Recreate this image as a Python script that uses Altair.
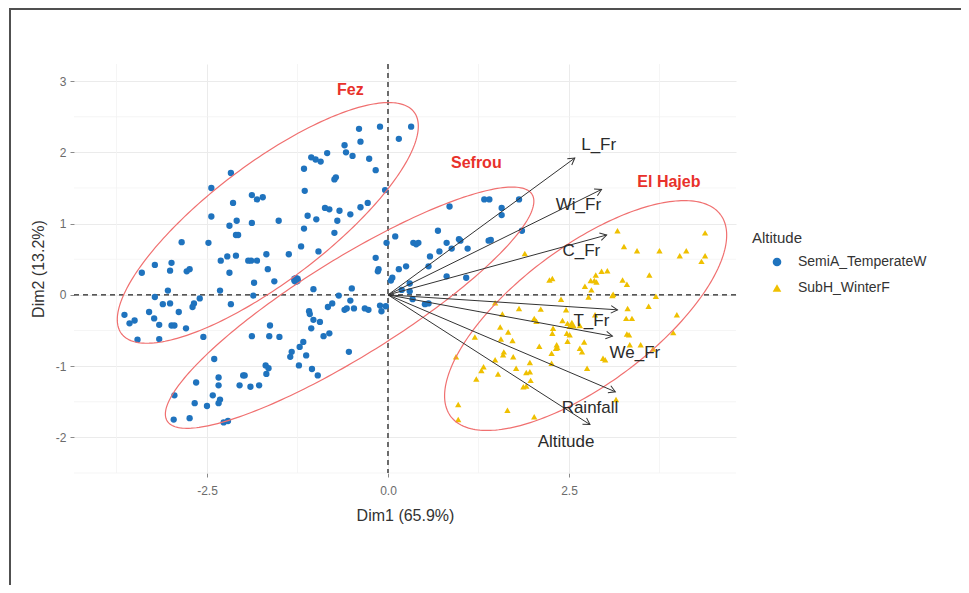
import math
import altair as alt
import numpy as np
import pandas as pd

# ---------------- data ----------------
group_names = ["SemiA_TemperateW", "SubH_WinterF"]
group_colors = ["#1f73be", "#efc000"]
group_shapes = ["circle", "triangle-up"]

semi_x = [-2.17, -2.44, -2.14, -2.44, -2.09, -2.19, -2.10, -2.07, -2.85, -2.48, -2.31, -2.22, -2.10, -1.93, -2.19,
          -2.99, -3.22, -3.01, -2.78, -2.74, -3.40, -3.04, -2.32, -3.22, -3.11, -3.01, -2.60, -2.68, -2.70, -2.17,
          -3.30, -2.89, -3.64, -3.50, -3.57, -3.23, -3.16, -2.99, -2.95, -2.79, -3.46, -3.16, -2.55,
          -2.40, -2.34, -2.65, -2.00, -1.98, -2.34, -2.05, -1.90, -2.95, -2.42, -2.32, -2.34, -2.67, -2.50, -2.96,
          -2.74, -2.27, -2.21,
          -0.40, -0.11, 0.32, 0.15, -0.38, -0.60, -0.58, -0.84, -0.49, -1.06, -1.00, -0.93, -0.26, -1.16, -0.17,
          -0.72, -0.74, -0.04, -1.15, -1.88, -1.81, -1.73, -0.87, -0.81, -0.67, -0.38, -0.28, -1.11, -0.99, -0.52,
          -0.70, -1.51, -1.88, -1.16, -0.74, -1.20, -0.96, -1.37, -1.68, -1.89, -1.81, -1.66, -1.57, -1.85, -1.03,
          -0.50, -1.86, -0.68, -0.77, -0.83, -0.52, -0.60, -0.57, -0.47, -0.32, -0.27, -0.11, -0.09, -0.03, -1.09,
          -1.08, -1.03, -0.94, -1.06, -1.63, -1.88, -1.64, -1.50, -0.81, -0.89, -1.17, -1.22, -1.33, -1.35, -1.13,
          -0.54, -1.69, -1.65, -1.68, -1.23, -1.05, -0.97, -1.78,
          -0.17, -0.13, -0.14, -0.02, 0.10, 0.35, 0.39, 0.42, 0.81, 0.98, 1.00, 1.39, 1.42, 0.71, 0.88, 1.10, 0.58,
          0.56, 0.15, 0.25, 0.06, 0.04, 0.81, 1.08, 0.30, 0.19, 0.30, 0.34, 0.51, 0.56, 1.33, 1.40, 1.81, 0.85,
          1.57, 1.57, 0.69, 1.85]
semi_y = [1.71, 1.50, 1.29, 1.10, 1.04, 0.97, 0.84, 0.84, 0.74, 0.73, 0.48, 0.54, 0.55, 0.48, 0.31,
          0.45, 0.42, 0.34, 0.33, 0.36, 0.31, 0.06, 0.06, -0.03, -0.13, -0.12, -0.05, -0.12, -0.17, -0.13,
          -0.24, -0.24, -0.28, -0.36, -0.40, -0.33, -0.42, -0.43, -0.43, -0.47, -0.63, -0.62, -0.59,
          -0.90, -1.16, -1.23, -1.13, -1.13, -1.27, -1.27, -1.29, -1.41, -1.41, -1.47, -1.52, -1.52, -1.56, -1.75,
          -1.73, -1.79, -1.77,
          2.33, 2.36, 2.36, 2.19, 2.15, 2.10, 2.00, 1.99, 1.95, 1.93, 1.90, 1.87, 1.91, 1.77, 1.75,
          1.65, 1.62, 1.47, 1.46, 1.40, 1.34, 1.37, 1.22, 1.20, 1.18, 1.23, 1.29, 1.11, 1.06, 1.13,
          1.04, 1.04, 1.01, 0.93, 0.87, 0.68, 0.61, 0.57, 0.57, 0.48, 0.48, 0.36, 0.19, 0.17, 0.08,
          0.09, -0.01, -0.01, -0.12, -0.17, -0.08, -0.21, -0.19, -0.19, -0.19, -0.21, -0.15, -0.23, -0.16, -0.23,
          -0.27, -0.35, -0.38, -0.47, -0.43, -0.58, -0.58, -0.59, -0.54, -0.58, -0.66, -0.73, -0.80, -0.87, -0.85,
          -0.80, -0.99, -1.03, -1.11, -0.99, -1.04, -1.13, -1.27,
          0.52, 0.36, 0.33, 0.73, 0.82, 0.73, 0.71, 0.73, 0.73, 0.78, 0.76, 0.76, 0.77, 0.61, 0.65, 0.65, 0.54,
          0.40, 0.36, 0.40, 0.24, 0.20, 0.26, 0.24, 0.16, 0.07, 0.05, -0.06, -0.13, -0.12, 1.34, 1.34, 1.34, 1.24,
          1.22, 1.12, 0.90, 0.90]

subh_x = [3.17, 4.38, 3.26, 3.44, 3.75, 4.03, 4.12, 4.38, 4.33, 1.89, 2.23, 2.27, 2.87, 2.95, 3.03, 2.80, 2.85,
          2.88, 3.24, 3.30, 3.61, 2.72, 2.81, 3.11, 3.10, 3.70, 2.77, 2.39, 1.48, 1.81, 2.11, 2.46, 2.86, 3.31,
          3.60, 3.99, 1.58, 2.02, 2.05, 3.29, 3.37, 2.41, 2.48, 2.51, 2.65, 1.55, 1.66, 2.28, 2.27, 2.47, 2.51,
          3.30, 3.33, 3.94, 1.20, 1.56, 1.72, 2.09, 2.33, 2.34, 2.32, 2.48, 2.71, 2.65, 2.68, 3.34, 3.49, 3.66,
          1.60, 1.59, 1.73, 2.26, 1.48, 1.96, 2.97, 3.00, 0.94, 1.32, 1.29, 1.77, 2.26, 2.75, 1.52, 1.22, 1.91,
          1.96, 1.97, 1.87, 1.91, 0.97, 1.65, 2.02, 0.97, 3.15]
subh_y = [0.90, 0.87, 0.68, 0.62, 0.62, 0.55, 0.62, 0.55, 0.47, 0.58, 0.21, 0.23, 0.28, 0.33, 0.34, 0.20, 0.20,
          0.18, 0.21, 0.15, 0.28, 0.12, 0.07, 0.01, -0.01, -0.02, -0.03, -0.06, -0.11, -0.19, -0.20, -0.21, -0.28,
          -0.19, -0.16, -0.28, -0.27, -0.33, -0.37, -0.33, -0.33, -0.36, -0.40, -0.44, -0.43, -0.45, -0.52, -0.47,
          -0.54, -0.54, -0.56, -0.55, -0.56, -0.53, -0.59, -0.62, -0.64, -0.72, -0.70, -0.74, -0.75, -0.65, -0.66,
          -0.75, -0.80, -0.70, -0.70, -0.76, -0.80, -0.84, -0.87, -0.82, -0.91, -0.95, -0.89, -0.91, -0.87, -1.01,
          -1.06, -1.03, -0.96, -1.03, -1.11, -1.18, -1.09, -1.08, -1.20, -1.29, -1.28, -1.54, -1.62, -1.71, -1.75,
          -1.47]

mean_x = [-1.27, 2.54]
mean_y = [0.21, -0.41]

var_names = ["L_Fr", "Wi_Fr", "C_Fr", "T_Fr", "We_Fr", "Rainfall", "Altitude"]
var_x = [2.58, 2.95, 3.02, 3.17, 3.10, 3.14, 2.79]
var_y = [1.92, 1.48, 0.84, -0.21, -0.58, -1.36, -1.82]
var_label_x = [2.91, 2.63, 2.67, 2.81, 3.41, 2.79, 2.46]
var_label_y = [2.10, 1.26, 0.61, -0.37, -0.82, -1.59, -2.06]

region_names = ["Fez", "Sefrou", "El Hajeb"]
region_cx = [-1.66, -0.53, 2.73]
region_cy = [1.01, -0.18, -0.29]
region_a = [2.55, 2.98, 2.34]
region_b = [0.82, 0.68, 0.96]
region_angle = [37.7, 32.3, 37.4]
region_label_x = [-0.52, 1.22, 3.88]
region_label_y = [2.88, 1.85, 1.58]

x_ticks = [-2.5, 0.0, 2.5]
y_ticks = [-2, -1, 0, 1, 2, 3]
x_minor = [-3.75, -1.25, 1.25, 3.75]
y_minor = [-2.5, -1.5, -0.5, 0.5, 1.5, 2.5]

x_domain = [-4.337, 4.807]
y_domain = [-2.50, 3.24]

# ---------------- layout ----------------
W, H = 662, 409
PAD_L, PAD_T = 66, 56
PAD_R = 953 - PAD_L - W
PAD_B = 577 - PAD_T - H
FONT = "Liberation Sans"

xs = alt.Scale(domain=x_domain, nice=False, zero=False)
ys = alt.Scale(domain=y_domain, nice=False, zero=False)

x_axis = alt.Axis(values=x_ticks, grid=True, gridColor="#ebebeb", gridWidth=1, domain=False,
                  tickColor="#8a8a8a", tickSize=4, labelColor="#6b6b6b", labelFontSize=12,
                  labelFont=FONT, labelPadding=8,
                  labelExpr="replace(format(datum.value, '.1f'), '\u2212', '-')",
                  titleFont=FONT, titleFontSize=16, titleFontWeight="normal", titleColor="#333333",
                  titlePadding=11)
y_axis = alt.Axis(values=y_ticks, grid=True, gridColor="#ebebeb", gridWidth=1, domain=False,
                  tickColor="#8a8a8a", tickSize=4, labelColor="#6b6b6b", labelFontSize=12,
                  labelFont=FONT, labelPadding=4,
                  labelExpr="replace(format(datum.value, 'd'), '\u2212', '-')",
                  titleFont=FONT, titleFontSize=16, titleFontWeight="normal", titleColor="#333333",
                  titlePadding=9)
X_TITLE = "Dim1 (65.9%)"
Y_TITLE = "Dim2 (13.2%)"


def X(field):
    return alt.X(field, scale=xs, axis=x_axis, title=X_TITLE)


def Y(field):
    return alt.Y(field, scale=ys, axis=y_axis, title=Y_TITLE)


# ---------------- tables ----------------
pts = pd.DataFrame({
    "x": semi_x + subh_x,
    "y": semi_y + subh_y,
    "group": [group_names[0]] * len(semi_x) + [group_names[1]] * len(subh_x),
})
means = pd.DataFrame({"x": mean_x, "y": mean_y, "group": group_names})

px_x = W / (x_domain[1] - x_domain[0])
px_y = H / (y_domain[1] - y_domain[0])
vars_df = pd.DataFrame({
    "name": var_names, "x0": 0.0, "y0": 0.0, "xe": var_x, "ye": var_y,
    "lx": var_label_x, "ly": var_label_y,
})
vars_df["ang"] = [math.degrees(math.atan2(-yy * px_y, xx * px_x)) % 360 for xx, yy in zip(var_x, var_y)]

ell_rows = []
tt = np.linspace(0, 2 * np.pi, 241)
for nm, cx, cy, a, b, ang in zip(region_names, region_cx, region_cy, region_a, region_b, region_angle):
    ph = math.radians(ang)
    for i, t in enumerate(tt):
        ell_rows.append({
            "name": nm, "t": i,
            "x": cx + a * math.cos(t) * math.cos(ph) - b * math.sin(t) * math.sin(ph),
            "y": cy + a * math.cos(t) * math.sin(ph) + b * math.sin(t) * math.cos(ph),
        })
ell = pd.DataFrame(ell_rows)
regions = pd.DataFrame({"name": region_names, "x": region_label_x, "y": region_label_y})

zero_df = pd.DataFrame({"v": [0.0]})
xminor_df = pd.DataFrame({"v": x_minor})
yminor_df = pd.DataFrame({"v": y_minor})
frame_df = pd.DataFrame({"k": [0]})

# ---------------- layers ----------------
minor_x = alt.Chart(xminor_df).mark_rule(color="#f3f3f3", strokeWidth=0.8).encode(x=X("v:Q"))
minor_y = alt.Chart(yminor_df).mark_rule(color="#f3f3f3", strokeWidth=0.8).encode(y=Y("v:Q"))

zero_v = alt.Chart(zero_df).mark_rule(color="#222222", strokeWidth=1.3, strokeDash=[5, 4]).encode(x=X("v:Q"))
zero_h = alt.Chart(zero_df).mark_rule(color="#222222", strokeWidth=1.3, strokeDash=[5, 4]).encode(y=Y("v:Q"))

legend = alt.Legend(
    title="Altitude", orient="none", legendX=678, legendY=167,
    titleFont=FONT, titleFontSize=15, titleFontWeight="normal", titleColor="#333333", titlePadding=9,
    labelFont=FONT, labelFontSize=14, labelColor="#333333",
    symbolSize=75, symbolOffset=18, labelOffset=14, rowPadding=12, padding=0, symbolStrokeWidth=0,
)

points = alt.Chart(pts).mark_point(filled=True, size=40, opacity=1).encode(
    x=X("x:Q"), y=Y("y:Q"),
    color=alt.Color("group:N", scale=alt.Scale(domain=group_names, range=group_colors), legend=legend),
    shape=alt.Shape("group:N", scale=alt.Scale(domain=group_names, range=group_shapes), legend=legend),
)

mean_pts = alt.Chart(means).mark_point(filled=True, size=100, opacity=1).encode(
    x=X("x:Q"), y=Y("y:Q"),
    color=alt.Color("group:N", scale=alt.Scale(domain=group_names, range=group_colors), legend=legend),
    shape=alt.Shape("group:N", scale=alt.Scale(domain=group_names, range=group_shapes), legend=legend),
)

ellipses = alt.Chart(ell).mark_line(color="#f07070", strokeWidth=1.2).encode(
    x=X("x:Q"), y=Y("y:Q"), detail="name:N", order="t:Q",
)

arrows = alt.Chart(vars_df).mark_rule(color="#333333", strokeWidth=1).encode(
    x=X("x0:Q"), y=Y("y0:Q"), x2="xe:Q", y2="ye:Q",
)
heads = alt.Chart(vars_df).mark_point(
    shape="M-1,-0.58L0,0L-1,0.58", filled=False, size=169, color="#333333", strokeWidth=1, opacity=1
).encode(
    x=X("xe:Q"), y=Y("ye:Q"), angle=alt.Angle("ang:Q", scale=None),
)
var_labels = alt.Chart(vars_df).mark_text(font=FONT, fontSize=17, color="#2b2b2b", align="center",
                                          baseline="middle").encode(
    x=X("lx:Q"), y=Y("ly:Q"), text="name:N")

region_labels = alt.Chart(regions).mark_text(font=FONT, fontSize=16, fontWeight="bold", color="#e8312b",
                                             align="center", baseline="middle").encode(
    x=X("x:Q"), y=Y("y:Q"), text="name:N")

frame_left = alt.Chart(frame_df).mark_rule(color="#505050", strokeWidth=2).encode(
    x=alt.value(-PAD_L + 2), y=alt.value(-PAD_T + 1), y2=alt.value(H + PAD_B))
frame_top = alt.Chart(frame_df).mark_rule(color="#505050", strokeWidth=2).encode(
    x=alt.value(-PAD_L + 1), x2=alt.value(W + PAD_R), y=alt.value(-PAD_T + 1))

chart = alt.layer(
    minor_x, minor_y, zero_v, zero_h, points, mean_pts, ellipses, arrows, heads, var_labels, region_labels,
    frame_left, frame_top,
).properties(
    width=W, height=H,
    autosize=alt.AutoSizeParams(type="none"),
    padding={"left": PAD_L, "top": PAD_T, "right": PAD_R, "bottom": PAD_B},
    background="white",
).configure_view(stroke=None)

chart.save("out.html", embed_options={"renderer": "svg", "actions": False})
